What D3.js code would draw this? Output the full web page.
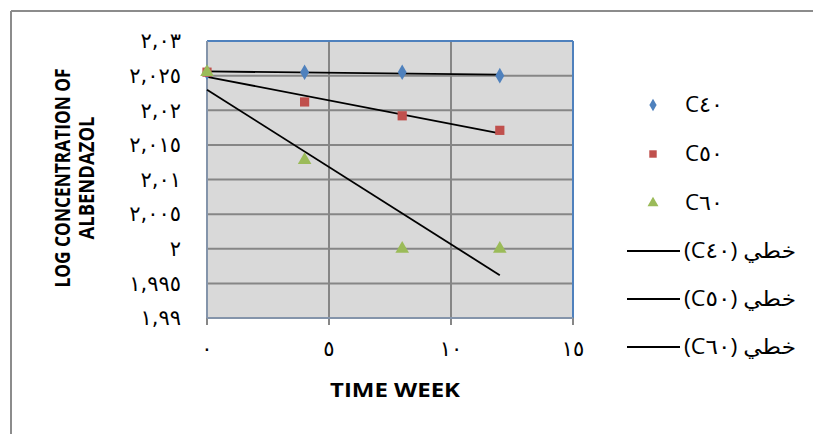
<!DOCTYPE html>
<html><head><meta charset="utf-8">
<script src="https://cdn.jsdelivr.net/npm/d3@7"></script>
<style>body{margin:0;background:#fff;} svg{display:block;}</style>
</head><body><svg id="c" width="813" height="434"></svg>
<script>
const weeks = [0, 4, 8, 12];
const seriesNames = ["C٤٠", "C٥٠", "C٦٠"];
const c40 = [2.0255, 2.0255, 2.0255, 2.0250];
const c50 = [2.0255, 2.0212, 2.0192, 2.0171];
const c60 = [2.0255, 2.0128, 2.0000, 2.0000];
const trendNames = ["(C٤٠) خطي", "(C٥٠) خطي", "(C٦٠) خطي"];
const yTicks = [1.99, 1.995, 2.0, 2.005, 2.01, 2.015, 2.02, 2.025, 2.03];
const yTickLabels = ["١,٩٩", "١,٩٩٥", "٢", "٢,٠٠٥", "٢,٠١", "٢,٠١٥", "٢,٠٢", "٢,٠٢٥", "٢,٠٣"];
const xTicks = [0, 5, 10, 15];
const xTickLabels = ["٠", "٥", "١٠", "١٥"];
const colors = ["#4F81BD", "#C0504D", "#9BBB59"];
const yTitle = ["LOG CONCENTRATION OF", "ALBENDAZOL"];
const xTitle = "TIME WEEK";

const svg = d3.select("#c");
const L = 207, R = 573, T = 41, B = 318;
const x = d3.scaleLinear().domain([0, 15]).range([L, R]);
const y = d3.scaleLinear().domain([1.99, 2.03]).range([B, T]);
const latin = "'Open Sans', Lato, 'DejaVu Sans', sans-serif";
const arab = "'DejaVu Sans', sans-serif";

// outer border (top + left)
svg.append("line").attr("x1", 11).attr("x2", 813).attr("y1", 11).attr("y2", 11).attr("stroke", "#8c8c8c").attr("stroke-width", 2);
svg.append("line").attr("x1", 11).attr("x2", 11).attr("y1", 11).attr("y2", 434).attr("stroke", "#8c8c8c").attr("stroke-width", 2);

// plot background
svg.append("rect").attr("x", L).attr("y", T).attr("width", R - L).attr("height", B - T).attr("fill", "#D9D9D9");

// grid
svg.append("g").selectAll("line").data(yTicks).join("line")
  .attr("x1", L).attr("x2", R).attr("y1", d => y(d)).attr("y2", d => y(d))
  .attr("stroke", "#868686").attr("stroke-width", 2);
svg.append("g").selectAll("line").data(xTicks).join("line")
  .attr("x1", d => x(d)).attr("x2", d => x(d)).attr("y1", T).attr("y2", B + 7)
  .attr("stroke", "#868686").attr("stroke-width", 2);

// plot border
svg.append("line").attr("x1", L).attr("x2", R).attr("y1", T).attr("y2", T).attr("stroke", "#4F81BD").attr("stroke-width", 2);
svg.append("line").attr("x1", R).attr("x2", R).attr("y1", T).attr("y2", B).attr("stroke", "#4F81BD").attr("stroke-width", 2);
svg.append("line").attr("x1", L).attr("x2", L).attr("y1", T).attr("y2", B).attr("stroke", "#8494AA").attr("stroke-width", 2);
svg.append("line").attr("x1", L).attr("x2", R).attr("y1", B).attr("y2", B).attr("stroke", "#8494AA").attr("stroke-width", 2);

// y tick labels
svg.append("g").selectAll("text").data(yTicks).join("text")
  .attr("x", 181).attr("y", d => y(d)).attr("dy", "0.35em")
  .attr("text-anchor", "end").attr("font-family", arab).attr("font-size", 21).attr("letter-spacing", 3).attr("fill", "#000")
  .text((d, i) => yTickLabels[i]);
// x tick labels
svg.append("g").selectAll("text").data(xTicks).join("text")
  .attr("x", d => x(d)).attr("y", 356)
  .attr("text-anchor", "middle").attr("font-family", arab).attr("font-size", 21).attr("letter-spacing", 4).attr("fill", "#000")
  .text((d, i) => xTickLabels[i]);

// titles
svg.append("text").attr("x", 395).attr("y", 397).attr("text-anchor", "middle")
  .attr("font-family", latin).attr("font-weight", "bold").attr("font-size", 19)
  .attr("textLength", 130).attr("lengthAdjust", "spacingAndGlyphs").text(xTitle);
const yLens = [219, 123];
yTitle.forEach((t, i) => {
  svg.append("text").attr("transform", `translate(${70 + i * 24},178) rotate(-90)`)
    .attr("text-anchor", "middle").attr("font-family", latin).attr("font-weight", "bold").attr("font-size", 21)
    .attr("textLength", yLens[i]).attr("lengthAdjust", "spacingAndGlyphs").text(t);
});

// trend lines (linear regression)
const data = [c40, c50, c60];
data.forEach(vals => {
  const mx = d3.mean(weeks), my = d3.mean(vals);
  const sxy = d3.sum(weeks, (w, i) => (w - mx) * (vals[i] - my));
  const sxx = d3.sum(weeks, w => (w - mx) ** 2);
  const b = sxy / sxx, a = my - b * mx;
  const x0 = d3.min(weeks), x1 = d3.max(weeks);
  svg.append("line").attr("x1", x(x0)).attr("y1", y(a + b * x0)).attr("x2", x(x1)).attr("y2", y(a + b * x1))
    .attr("stroke", "#000").attr("stroke-width", 1.8);
});

// markers
const sym = [d3.symbolDiamond, d3.symbolSquare, d3.symbolTriangle];
const sizes = [70, 85, 80];
data.forEach((vals, k) => {
  svg.append("g").selectAll("path").data(vals).join("path")
    .attr("transform", (d, i) => `translate(${x(weeks[i])},${y(d)})`)
    .attr("d", d3.symbol(sym[k], sizes[k]))
    .attr("fill", colors[k]);
});

// legend
const lg = svg.append("g");
seriesNames.forEach((n, k) => {
  const ly = 105 + k * 49;
  lg.append("path").attr("transform", `translate(653,${ly})`).attr("d", d3.symbol(sym[k], sizes[k] * 0.65)).attr("fill", colors[k]);
  lg.append("text").attr("x", 685).attr("y", ly).attr("dy", "0.35em").attr("font-family", latin).attr("font-size", 21)
    .attr("textLength", 38).attr("lengthAdjust", "spacingAndGlyphs").text(n);
});
trendNames.forEach((n, k) => {
  const ly = 251 + k * 48;
  lg.append("line").attr("x1", 627).attr("x2", 680).attr("y1", ly).attr("y2", ly).attr("stroke", "#000").attr("stroke-width", 1.8);
  lg.append("text").attr("x", 684).attr("y", ly).attr("dy", "0.35em").attr("direction", "ltr").attr("font-family", latin).attr("font-size", 21)
    .attr("textLength", 112).attr("lengthAdjust", "spacingAndGlyphs").text(n);
});
</script></body></html>
